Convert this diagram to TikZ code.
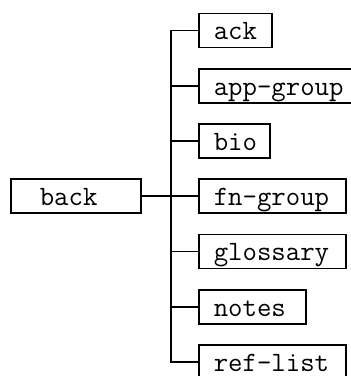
\documentclass[tikz,border=0pt]{standalone}
\usepackage{tikz}
\usetikzlibrary{positioning,calc}

\tikzset{
    leaf/.style={draw, line width=1.6pt, anchor=west, align=left,
        inner xsep=15pt, inner ysep=4pt, text height=22pt, text depth=4pt,
        font=\ttfamily\fontsize{28}{30}\selectfont},
    branch/.style={line width=1.6pt}
}

\begin{document}
\begin{tikzpicture}[x=1pt,y=-1pt]
    \useasboundingbox (0,0) rectangle (351,376);
    % Back matter tree
    \node[leaf, inner xsep=29pt, text width=72pt] (back) at (10,196) {back};
    \node[leaf, text width=43pt] (ack) at (198,30.5) {ack};
    \node[leaf, text width=130pt] (appgroup) at (198,86) {app-group};
    \node[leaf, text width=41pt] (bio) at (198,141) {bio};
    \node[leaf, text width=117pt] (fngroup) at (198,196) {fn-group};
    \node[leaf, text width=117pt] (glossary) at (198,251.5) {glossary};
    \node[leaf, text width=77pt] (notes) at (198,307) {notes};
    \node[leaf, text width=117pt] (reflist) at (198,362) {ref-list};

    \coordinate (spine) at (171,0);

    \draw[branch] (back.east) -- (fngroup.west);
    \draw[branch] (ack.west) -- (ack.west -| spine) -- (reflist.west -| spine) -- (reflist.west);
    \foreach \n in {appgroup,bio,glossary,notes}
        \draw[branch] (\n.west) -- (\n.west -| spine);
\end{tikzpicture}
\end{document}
